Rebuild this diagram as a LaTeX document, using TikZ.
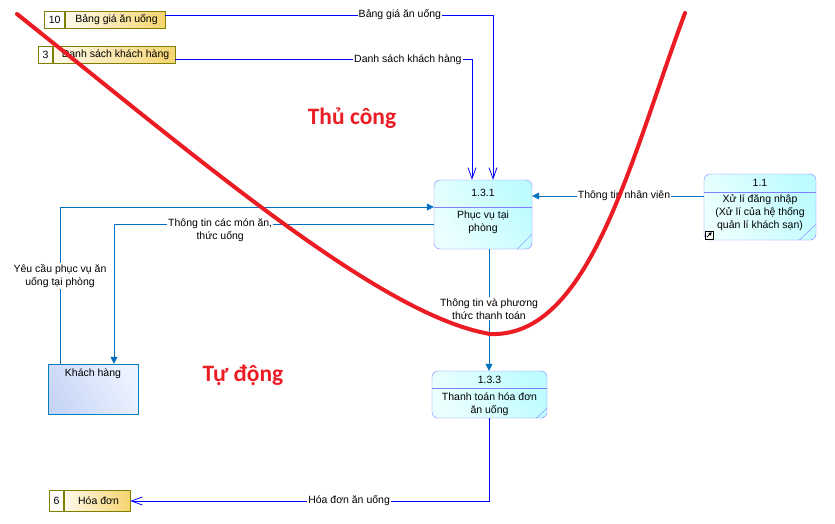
\documentclass[tikz,border=0pt]{standalone}
\usepackage{fontspec}
\setmainfont{Liberation Sans}
\newfontfamily\calib{Carlito}
\usetikzlibrary{arrows.meta,positioning,shapes}

\definecolor{procline}{RGB}{128,128,255}
\definecolor{proclight}{RGB}{236,255,255}
\definecolor{procdark}{RGB}{190,252,255}
\definecolor{storeline}{RGB}{128,128,0}
\definecolor{storelight}{RGB}{255,250,236}
\definecolor{storedark}{RGB}{245,212,112}
\definecolor{entline}{RGB}{0,128,192}
\definecolor{entdark}{RGB}{200,214,246}
\definecolor{entlight}{RGB}{236,242,255}
\definecolor{flowblue}{RGB}{0,112,192}
\definecolor{storeflow}{RGB}{0,0,255}
\definecolor{penred}{RGB}{236,28,36}

\begin{document}
\begin{tikzpicture}[x=1pt,y=-1pt,
    font=\fontsize{10.5}{13}\selectfont,
    proc/.style={draw=procline, rounded corners=6pt, left color=proclight, right color=procdark, shading angle=120},
    store/.style={draw=storeline, left color=storelight, right color=storedark, minimum height=17, inner sep=0pt},
    storenum/.style={draw=storeline, fill=white, minimum height=17, inner sep=0pt},
    ent/.style={draw=entline, left color=entdark, right color=entlight, shading angle=120},
    flow/.style={draw=flowblue, line width=0.8pt, -{Triangle[length=7pt,width=7pt]}},
    dflow/.style={draw=storeflow, line width=0.8pt, -{Straight Barb[length=11pt,width=8pt]}},
    lbl/.style={fill=white, inner sep=1pt, align=center, text=black},
    redline/.style={draw=penred, line width=4pt, line cap=round},
    redtext/.style={text=penred, font=\calib\bfseries\fontsize{23.5}{26}\selectfont}]

        \path[use as bounding box, fill=white] (0,0) rectangle (835,523);

        % data stores
        \node[store, minimum width=100] (ds10) at (115,20) {\hspace{3pt}Bảng giá ăn uống};
        \node[storenum, minimum width=20, left=0pt of ds10] (ds10n) {10};
        \node[store, minimum width=122] (ds3) at (114,54.5) {\hspace{3pt}Danh sách khách hàng};
        \node[storenum, minimum width=14, left=0pt of ds3] (ds3n) {3};
        \node[store, minimum width=66, minimum height=21] (ds6) at (97,501) {\hspace{3pt}Hóa đơn};
        \node[storenum, minimum width=14, minimum height=21, left=0pt of ds6] (ds6n) {6};

        % processes
        \node[proc, minimum width=98, minimum height=69] (p131) at (483,214.5) {};
        \draw[procline] ([yshift=-27]p131.north west) -- ([yshift=-27]p131.north east);
        \draw[procline] ([xshift=-15]p131.south east) -- ([yshift=15]p131.south east);
        \node (p131id) at ([yshift=-13.5]p131.north) {1.3.1};
        \node[align=center] (p131txt) at ([yshift=-7.5]p131.center) {Phục vụ tại\\phòng};

        \node[proc, minimum width=112, minimum height=66] (p11) at (760,207) {};
        \draw[procline] ([yshift=-18]p11.north west) -- ([yshift=-18]p11.north east);
        \draw[procline] ([xshift=-17]p11.south east) -- ([yshift=16]p11.south east);
        \node (p11id) at ([yshift=-9]p11.north) {1.1};
        \node[align=center] (p11txt) at ([yshift=-5.5]p11.center) {Xử lí đăng nhập\\(Xử lí của hệ thống\\quản lí khách sạn)};
        \node[draw=black, fill=white, minimum size=8, inner sep=0pt, anchor=south west] (p11link) at ([shift={(1,-1)}]p11.south west) {};
        \draw[-{Triangle[length=3pt,width=3.5pt]}, line width=0.9pt] ([shift={(2,-2)}]p11link.south west) -- ([shift={(-1.5,1.5)}]p11link.north east);

        \node[proc, minimum width=115, minimum height=47] (p133) at (489.5,394.5) {};
        \draw[procline] ([yshift=-17]p133.north west) -- ([yshift=-17]p133.north east);
        \draw[procline] ([xshift=-11]p133.south east) -- ([yshift=10]p133.south east);
        \node (p133id) at ([yshift=-9]p133.north) {1.3.3};
        \node[align=center] (p133txt) at ([yshift=-9.5]p133.center) {Thanh toán hóa đơn\\ăn uống};

        % external entity
        \node[ent, minimum width=90, minimum height=50] (kh) at (93,389) {};
        \node[anchor=north] (khtxt) at ([yshift=-1]kh.north) {Khách hàng};

        % draw flows
        \draw[dflow] ([yshift=5]ds10.east) -| ([xshift=10]p131.north)
          node[lbl, pos=0.358] {Bảng giá ăn uống};
        \draw[dflow] ([yshift=-5]ds3.east) -| ([xshift=-11]p131.north)
          node[lbl, pos=0.392] {Danh sách khách hàng};
        \draw[flow] ([yshift=11]p11.west) -- ([yshift=11]p11.west -| p131.east)
          node[lbl, pos=0.465] {Thông tin nhân viên};
        \draw[flow] ([xshift=-33]kh.north) |- ([yshift=7.5]p131.west)
          node[lbl, pos=0.28] {Yêu cầu phục vụ ăn\\uống tại phòng};
        \draw[flow] ([yshift=-9.5]p131.west) -| ([xshift=21]kh.north)
          node[lbl, pos=0.334, yshift=-6] {Thông tin các món ăn,\\thức uống};
        \draw[flow] ([xshift=6]p131.south) -- ([xshift=6]p131.south |- p133.north)
          node[lbl, pos=0.49] {Thông tin và phương\\thức thanh toán};
        \draw[dflow] ([xshift=-0.5]p133.south) |- (ds6.east)
          node[lbl, pos=0.695] {Hóa đơn ăn uống};

        % draw boundary
        \draw[redline] (17,14) .. controls (200,160) and (380,315) .. (490,334)
          .. controls (590,338) and (630,160) .. (685,13);
        \node[redtext] (manual) at (352,118) {Thủ công};
        \node[redtext] (auto) at (243,375) {Tự động};
      \end{tikzpicture}
\end{document}
